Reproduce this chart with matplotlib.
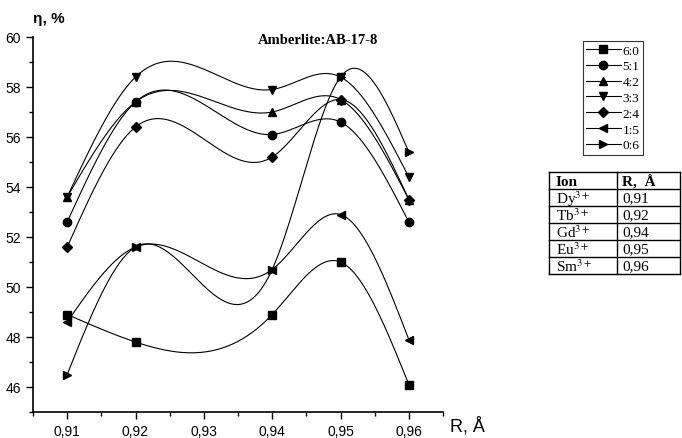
import matplotlib
matplotlib.use("Agg")
import matplotlib.pyplot as plt
from matplotlib.lines import Line2D
from matplotlib.ticker import FixedLocator, MultipleLocator, FuncFormatter
import numpy as np

# ---- data ----
radius = [0.91, 0.92, 0.94, 0.95, 0.96]
series_labels = ["6:0", "5:1", "4:2", "3:3", "2:4", "1:5", "0:6"]
eta_60 = [48.9, 47.8, 48.9, 51.0, 46.1]
eta_51 = [52.6, 57.4, 56.1, 56.6, 52.6]
eta_42 = [53.6, 57.4, 57.0, 57.5, 53.5]
eta_33 = [53.6, 58.4, 57.9, 58.4, 54.4]
eta_24 = [51.6, 56.4, 55.2, 57.5, 53.5]
eta_15 = [48.6, 51.6, 50.7, 52.9, 47.9]
eta_06 = [46.5, 51.6, 50.7, 58.4, 55.4]
series_values = [eta_60, eta_51, eta_42, eta_33, eta_24, eta_15, eta_06]
markers = ["s", "o", "^", "v", "D", "<", ">"]

ions = ["Dy", "Tb", "Gd", "Eu", "Sm"]
ion_radius = ["0,91", "0,92", "0,94", "0,95", "0,96"]


def natural_spline(x, y, num=300):
    """Smooth connecting curve (natural cubic spline) through the points."""
    x = np.asarray(x, float)
    y = np.asarray(y, float)
    n = len(x)
    h = np.diff(x)
    A = np.zeros((n, n))
    b = np.zeros(n)
    A[0, 0] = A[-1, -1] = 1.0
    for i in range(1, n - 1):
        A[i, i - 1] = h[i - 1]
        A[i, i] = 2 * (h[i - 1] + h[i])
        A[i, i + 1] = h[i]
        b[i] = 6 * ((y[i + 1] - y[i]) / h[i] - (y[i] - y[i - 1]) / h[i - 1])
    M = np.linalg.solve(A, b)
    xs = np.linspace(x[0], x[-1], num)
    idx = np.clip(np.searchsorted(x, xs) - 1, 0, n - 2)
    x0, x1 = x[idx], x[idx + 1]
    hh = x1 - x0
    ys = (M[idx] * (x1 - xs) ** 3 / (6 * hh) + M[idx + 1] * (xs - x0) ** 3 / (6 * hh)
          + (y[idx] / hh - M[idx] * hh / 6) * (x1 - xs)
          + (y[idx + 1] / hh - M[idx + 1] * hh / 6) * (xs - x0))
    return xs, ys


plt.rcParams["font.family"] = ["Liberation Sans", "DejaVu Sans"]
plt.rcParams["mathtext.fontset"] = "stix"

fig = plt.figure(figsize=(6.82, 4.39), dpi=100)
ax = fig.add_axes([33 / 682, 1 - 413 / 439, 410 / 682, 375 / 439])

for vals, mk in zip(series_values, markers):
    xs, ys = natural_spline(radius, vals)
    ax.plot(xs, ys, color="black", linewidth=0.8)
    ax.plot(radius, vals, linestyle="none", marker=mk, color="black",
            markersize=6 if mk != "D" else 5.2)

ax.set_xlim(0.905, 0.965)
ax.set_ylim(45, 60)
for side in ("top", "right"):
    ax.spines[side].set_visible(False)
for side in ("left", "bottom"):
    ax.spines[side].set_linewidth(1.2)

ax.xaxis.set_major_locator(FixedLocator([0.91, 0.92, 0.93, 0.94, 0.95, 0.96]))
ax.xaxis.set_minor_locator(MultipleLocator(0.005))
ax.xaxis.set_major_formatter(FuncFormatter(lambda v, p: f"{v:.2f}".replace(".", ",")))
ax.yaxis.set_major_locator(FixedLocator([46, 48, 50, 52, 54, 56, 58, 60]))
ax.yaxis.set_minor_locator(MultipleLocator(1))
ax.tick_params(which="major", direction="out", length=5, width=1, labelsize=10)
ax.tick_params(which="minor", direction="out", length=3, width=1)

fig.text(33 / 682, 1 - 19 / 439, "η, %", fontsize=11, fontweight="bold",
         ha="left", va="center")
fig.text(467 / 682, 1 - 426 / 439, "R, Å", fontsize=13, ha="center", va="center")
fig.text(318 / 682, 1 - 40 / 439, "Amberlite:AB-17-8", fontsize=10.5,
         fontweight="bold", family="Liberation Serif", ha="center", va="center")

# legend
handles = [Line2D([], [], color="black", linewidth=0.8, marker=mk,
                  markersize=6 if mk != "D" else 5.2)
           for mk in markers]
leg = fig.legend(handles, series_labels, loc="upper left",
                 bbox_to_anchor=(583 / 682, 1 - 42 / 439),
                 prop={"family": "Liberation Serif", "size": 9.5},
                 frameon=True, fancybox=False, edgecolor="black",
                 borderpad=0.25, labelspacing=0.27, handlelength=2.6,
                 handletextpad=0.15, borderaxespad=0)
leg.get_frame().set_linewidth(0.8)

# ion radius table
tx0, tx1, tx2 = 549, 617, 680
ty0, row_h = 173, 17
rows = [("Ion", "R,  Å")] + [(f"{ion}$^{{3+}}$", r) for ion, r in zip(ions, ion_radius)]
n_rows = len(rows)


def fx(px):
    return px / 682


def fy(py):
    return 1 - py / 439


for i in range(n_rows + 1):
    y = ty0 + i * row_h
    fig.add_artist(Line2D([fx(tx0), fx(tx2)], [fy(y), fy(y)], color="black", linewidth=1))
for x in (tx0, tx1, tx2):
    fig.add_artist(Line2D([fx(x), fx(x)], [fy(ty0), fy(ty0 + n_rows * row_h)],
                          color="black", linewidth=1))
for i, (c1, c2) in enumerate(rows):
    yc = ty0 + (i + 0.5) * row_h + 0.5
    weight = "bold" if i == 0 else "normal"
    fig.text(fx(tx0 + 7), fy(yc), c1, fontsize=11, family="Liberation Serif",
             fontweight=weight, ha="left", va="center")
    fig.text(fx(tx1 + 5), fy(yc), c2, fontsize=11, family="Liberation Serif",
             fontweight=weight, ha="left", va="center")

fig.savefig("out.png", dpi=100)
